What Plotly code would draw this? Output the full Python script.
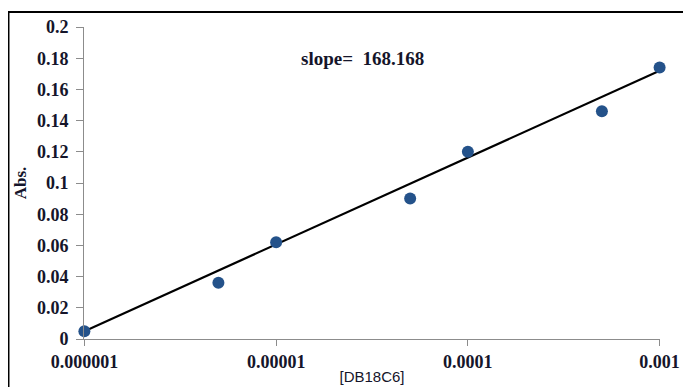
import plotly.graph_objects as go

conc = [1e-6, 5e-6, 1e-5, 5e-5, 1e-4, 5e-4, 1e-3]
absorb = [0.005, 0.036, 0.062, 0.090, 0.120, 0.146, 0.174]
trend_x = [1e-6, 1e-3]
trend_y = [0.005, 0.172]
x_tickvals = [1e-6, 1e-5, 1e-4, 1e-3]
x_ticktext = ["0.000001", "0.00001", "0.0001", "0.001"]
y_tickvals = [0, 0.02, 0.04, 0.06, 0.08, 0.1, 0.12, 0.14, 0.16, 0.18, 0.2]
y_ticktext = ["0", "0.02", "0.04", "0.06", "0.08", "0.1", "0.12", "0.14", "0.16", "0.18", "0.2"]

serif = "Liberation Serif, Times New Roman, serif"
ink = "#15152a"

fig = go.Figure()
fig.add_trace(go.Scatter(x=trend_x, y=trend_y, mode="lines",
                         line=dict(color="black", width=2.2), showlegend=False,
                         hoverinfo="skip", cliponaxis=False))
fig.add_trace(go.Scatter(x=conc, y=absorb, mode="markers",
                         marker=dict(color="#24528A", size=12), showlegend=False,
                         cliponaxis=False))

fig.update_layout(
    width=683, height=379,
    margin=dict(l=76, r=31, t=19, b=48),
    paper_bgcolor="white", plot_bgcolor="white",
    xaxis=dict(type="log", range=[-6.002, -2.998], tickvals=x_tickvals, ticktext=x_ticktext,
               automargin=False,
               showgrid=False, zeroline=False, showline=True, linecolor="#8c8c8c", linewidth=1,
               ticks="outside", ticklen=6, tickcolor="#8c8c8c",
               tickfont=dict(family=serif, size=18, color=ink, weight="bold"),
               title=dict(text="[DB18C6]", font=dict(family="Liberation Sans, Arial, sans-serif", size=15, color=ink),
                          standoff=0)),
    yaxis=dict(range=[0, 0.2], tickvals=y_tickvals, ticktext=y_ticktext,
               automargin=False,
               showgrid=False, zeroline=False, showline=True, linecolor="#8c8c8c", linewidth=1,
               ticks="outside", ticklen=7, tickcolor="#8c8c8c", ticklabelstandoff=4,
               tickfont=dict(family=serif, size=18, color=ink, weight="bold"),
               title=dict(text="Abs.", font=dict(family=serif, size=17, color=ink, weight="bold"),
                          standoff=5)),
    annotations=[dict(text="slope=  168.168", x=0.483, y=1.0, xref="paper", yref="paper",
                      xanchor="center", yanchor="middle", yshift=-31, showarrow=False,
                      font=dict(family=serif, size=19, color=ink, weight="bold"))],
    shapes=[dict(type="rect", xref="paper", yref="paper", x0=-0.1311, x1=1.2, y0=-0.3, y1=1.048,
                 line=dict(color="black", width=2))],
)

fig.write_html("out.html")
